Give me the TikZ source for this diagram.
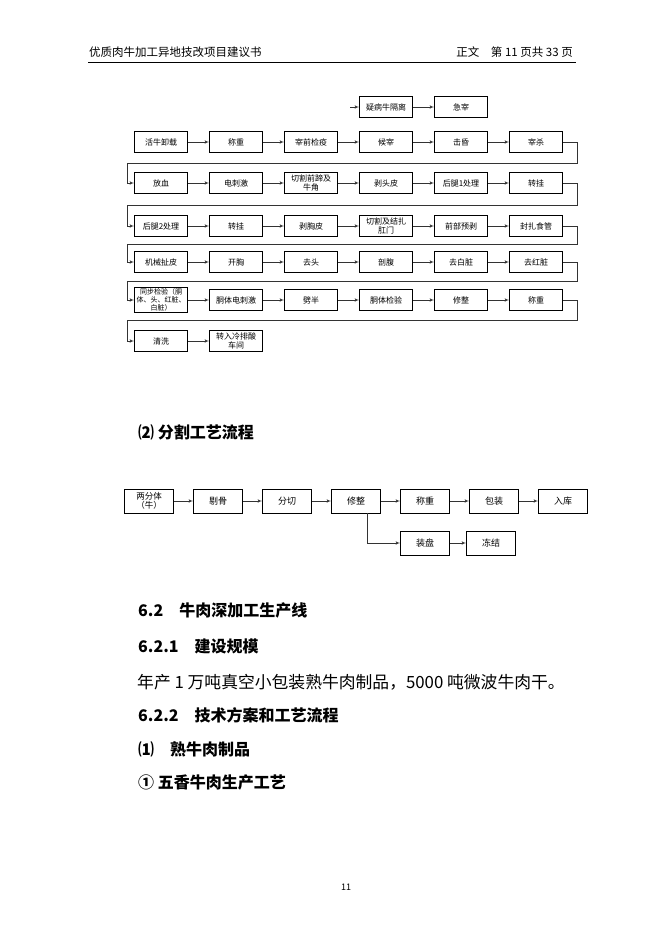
\documentclass[tikz,border=0pt]{standalone}
\usepackage{fontspec}
\setmainfont{Noto Sans CJK SC}
\usepackage{tikz}
\usetikzlibrary{shapes,arrows,calc,positioning}

\begin{document}
\begin{tikzpicture}[x=1pt, y=-1pt, auto, node distance=75pt, >=latex']
\tikzset{block/.style = {draw, rectangle, line width=.7pt, minimum height=21pt,
  minimum width=53pt, inner sep=1pt, align=center,
  font=\fontsize{8}{9}\selectfont}}
\tikzset{cutblock/.style = {block, minimum height=24pt, minimum width=49pt,
  font=\fontsize{9}{10}\selectfont}}
\tikzset{flow/.style = {->, line width=.6pt, black!80}}
\tikzset{txt/.style = {anchor=west, inner sep=0pt,
  font=\fontsize{16}{18}\selectfont}}

  \useasboundingbox (0,0) rectangle (662,936);

  \node[anchor=west, inner sep=0pt, font=\fontsize{11.5}{12}\selectfont]
    (title) at (89,52) {优质肉牛加工异地技改项目建议书};
  \node[anchor=east, inner sep=0pt, font=\fontsize{11.5}{12}\selectfont]
    (pageinfo) at (573,52) {正文\quad 第 11 页共 33 页};
  \draw[line width=.8pt] (88,62) -- (576,62);

  \node[block] (suspect) at (386,107) {疑病牛隔离};
  \node[block, right of=suspect] (emkill) {急宰};
  \coordinate (branch) at (350,107);

  \node[block] (unload) at (161,142) {活牛卸载};
  \node[block, right of=unload] (weigh) {称重};
  \node[block, right of=weigh] (inspect) {宰前检疫};
  \node[block, right of=inspect] (wait) {候宰};
  \node[block, right of=wait] (stun) {击昏};
  \node[block, right of=stun] (kill) {宰杀};

  \node[block] (bleed) at (161,183) {放血};
  \node[block, right of=bleed] (stim) {电刺激};
  \node[block, right of=stim] (hooves) {切割前蹄及\\牛角};
  \node[block, right of=hooves] (headskin) {剥头皮};
  \node[block, right of=headskin] (legone) {后腿1处理};
  \node[block, right of=legone] (hangone) {转挂};

  \node[block] (legtwo) at (161,226) {后腿2处理};
  \node[block, right of=legtwo] (hangtwo) {转挂};
  \node[block, right of=hangtwo] (chestskin) {剥胸皮};
  \node[block, right of=chestskin] (anus) {切割及结扎\\肛门};
  \node[block, right of=anus] (prefront) {前部预剥};
  \node[block, right of=prefront] (gullet) {封扎食管};

  \node[block] (hide) at (161,262) {机械扯皮};
  \node[block, right of=hide] (chest) {开胸};
  \node[block, right of=chest] (head) {去头};
  \node[block, right of=head] (belly) {剖腹};
  \node[block, right of=belly] (white) {去白脏};
  \node[block, right of=white] (red) {去红脏};

  \node[block, minimum height=25pt, font=\fontsize{7}{8}\selectfont]
    (sync) at (161,300) {同步检验（胴\\体、头、红脏、\\白脏）};
  \node[block, right of=sync] (carcass) {胴体电刺激};
  \node[block, right of=carcass] (split) {劈半};
  \node[block, right of=split] (check) {胴体检验};
  \node[block, right of=check] (trim) {修整};
  \node[block, right of=trim] (weightwo) {称重};

  \node[block] (wash) at (161,341) {清洗};
  \node[block, right of=wash] (chill) {转入冷排酸\\车间};

  \draw[flow] (branch) -- (suspect);
  \draw[flow] (suspect) -- (emkill);
  \foreach \a/\b in {unload/weigh, weigh/inspect, inspect/wait, wait/stun,
    stun/kill, bleed/stim, stim/hooves, hooves/headskin, headskin/legone,
    legone/hangone, legtwo/hangtwo, hangtwo/chestskin, chestskin/anus,
    anus/prefront, prefront/gullet, hide/chest, chest/head, head/belly,
    belly/white, white/red, sync/carcass, carcass/split, split/check,
    check/trim, trim/weightwo, wash/chill}
    \draw[flow] (\a) -- (\b);

  \foreach \a/\b/\m in {kill/bleed/163, hangone/legtwo/205, gullet/hide/244,
    red/sync/281, weightwo/wash/320}
    \draw[flow] (\a.east) -- (577,0 |- \a.east) |- (127,\m) |- (\b.west);

  \node[anchor=west, inner sep=0pt, font=\fontsize{16}{18}\selectfont\bfseries]
    (cuthead) at (138,432) {⑵ 分割工艺流程};

  \begin{scope}[node distance=69pt]
  \node[cutblock, font=\fontsize{8.5}{9.5}\selectfont] (halves) at (149,501)
    {两分体\\（牛）};
  \node[cutblock, right of=halves] (debone) {剔骨};
  \node[cutblock, right of=debone] (portion) {分切};
  \node[cutblock, right of=portion] (cuttrim) {修整};
  \node[cutblock, right of=cuttrim] (cutweigh) {称重};
  \node[cutblock, right of=cutweigh] (pack) {包装};
  \node[cutblock, right of=pack] (store) {入库};
  \node[cutblock, node distance=42pt, below of=cutweigh] (tray) {装盘};
  \node[cutblock, node distance=66pt, right of=tray] (freeze) {冻结};
  \end{scope}

  \foreach \a/\b in {halves/debone, debone/portion, portion/cuttrim,
    cuttrim/cutweigh, cutweigh/pack, pack/store, tray/freeze}
    \draw[flow] (\a) -- (\b);
  \draw[flow] ([xshift=11pt]cuttrim.south) |- (tray.west);

  \node[txt, font=\fontsize{16}{18}\selectfont\bfseries] (sec)
    at (138,610) {6.2\quad 牛肉深加工生产线};
  \node[txt, font=\fontsize{16}{18}\selectfont\bfseries] (subsecone)
    at (138,646) {6.2.1\quad 建设规模};
  \node[txt, font=\fontsize{16.8}{18}\selectfont] (scale) at (137,682)
    {年产 1 万吨真空小包装熟牛肉制品，5000 吨微波牛肉干。};
  \node[txt, font=\fontsize{16}{18}\selectfont\bfseries] (subsectwo)
    at (138,715) {6.2.2\quad 技术方案和工艺流程};
  \node[txt, font=\fontsize{16}{18}\selectfont\bfseries] (cooked)
    at (138,749) {⑴\quad 熟牛肉制品};
  \node[txt, font=\fontsize{16}{18}\selectfont\bfseries] (spiced)
    at (138,782) {① 五香牛肉生产工艺};

  \node[font=\fontsize{9}{10}\selectfont] (pagenum) at (346,887) {11};

\end{tikzpicture}
\end{document}
